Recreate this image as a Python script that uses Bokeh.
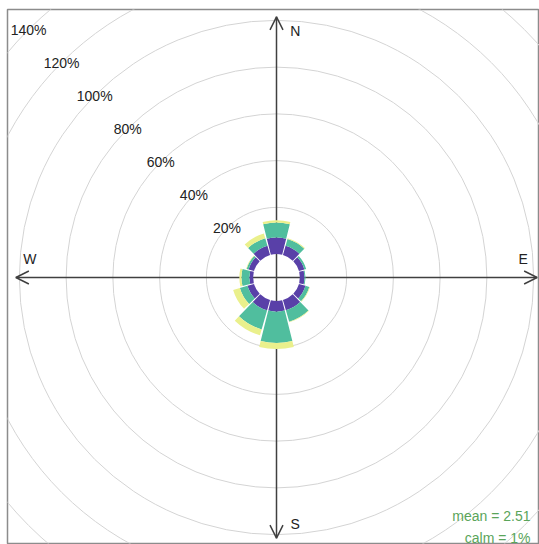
import numpy as np
from bokeh.plotting import figure
from bokeh.models import Range1d, Arrow, OpenHead, Label, ColumnDataSource
from bokeh.embed import file_html
from bokeh.resources import INLINE
from bokeh.core.properties import value

# ---------------- data ----------------
directions = [0, 30, 60, 90, 120, 150, 180, 210, 240, 270, 300, 330]
bin_names = ["bin 1", "bin 2", "bin 3"]
freq_bin1 = [7.1, 4.1, 2.4, 2.0, 2.9, 4.6, 4.6, 4.6, 2.9, 1.6, 2.4, 4.1]
freq_bin2 = [6.4, 3.0, 0.8, 0.4, 1.7, 5.1, 13.4, 8.5, 3.4, 3.4, 0.9, 3.4]
freq_bin3 = [1.0, 0.4, 0.0, 0.0, 0.3, 0.2, 2.6, 2.6, 3.0, 0.9, 0.2, 2.1]
ring_values = [20, 40, 60, 80, 100, 120, 140]
ring_labels = ["20%", "40%", "60%", "80%", "100%", "120%", "140%"]
compass_labels = ["N", "E", "S", "W"]
mean_text = "mean = 2.51"
calm_text = "calm = 1%"

# ---------------- style / layout ----------------
bin_colors = ["#5940A8", "#50BE9E", "#EAF08C"]
OFFSET = 10.0          # calm hole (in % units)
PX = 2.3375            # px per unit
W, H = 539, 544
BL, BT, BR, BB = 7, 9, 0, 1          # borders around the frame
FW, FH = W - BL - BR, H - BT - BB    # frame size
CX, CY = 269, 268                    # centre inside frame (px from left / top)
HALF = 14              # half angular width of a wedge (deg)
FONT = value("Liberation Sans")
AXIS_COL = "#404040"

x0, x1 = -CX / PX, (FW - CX) / PX
y0, y1 = -(FH - CY) / PX, CY / PX

p = figure(width=W, height=H, output_backend="svg", toolbar_location=None,
           x_range=Range1d(x0, x1), y_range=Range1d(y0, y1),
           x_axis_location=None, y_axis_location=None,
           min_border_left=BL, min_border_top=BT, min_border_right=BR,
           min_border_bottom=BB)
p.grid.visible = False
p.outline_line_color = "#8c8c8c"
p.outline_line_width = 1.5
p.background_fill_color = "white"
p.border_fill_color = "white"

# grid rings
rings = ColumnDataSource(dict(x=[0] * len(ring_values), y=[0] * len(ring_values),
                              r=[OFFSET + v for v in ring_values]))
p.circle(x="x", y="y", radius="r", source=rings, fill_color=None,
         line_color="#d4d4d4", line_width=1)

# axis lines with arrow heads
mx = 111.5
p.segment(x0=[-mx, 0], y0=[0, -mx], x1=[mx, 0], y1=[0, mx],
          line_color=AXIS_COL, line_width=1.5)
for xs, ys, xe, ye in [(-mx, 0, mx, 0), (0, -mx, 0, mx)]:
    p.add_layout(Arrow(start=OpenHead(size=13, line_color=AXIS_COL, line_width=1.5),
                       end=OpenHead(size=13, line_color=AXIS_COL, line_width=1.5),
                       x_start=xs, y_start=ys, x_end=xe, y_end=ye, line_alpha=0))

# stacked wedges
freqs = [freq_bin1, freq_bin2, freq_bin3]
cum = np.zeros(len(directions))
for name, f, col in zip(bin_names, freqs, bin_colors):
    f = np.array(f)
    inner = OFFSET + cum
    outer = inner + f
    keep = f > 0
    d = np.array(directions)[keep]
    src = ColumnDataSource(dict(inner=inner[keep], outer=outer[keep],
                                start=np.radians(90 - d - HALF),
                                end=np.radians(90 - d + HALF)))
    p.annular_wedge(x=0, y=0, inner_radius="inner", outer_radius="outer",
                    start_angle="start", end_angle="end",
                    direction="anticlock", source=src, fill_color=col,
                    line_color=None)
    cum = cum + f

# ring labels (north-west)
rr = np.array([OFFSET + v for v in ring_values])
p.text(x=-rr * np.sin(np.pi / 4), y=rr * np.cos(np.pi / 4), text=ring_labels,
       text_font=FONT, text_font_size="14px", text_align="center",
       text_baseline="middle", text_color="#222222")

# compass labels
LP, LO = 105.5, 8.0
p.text(x=[LO, LP, LO, -LP], y=[LP, LO, -LP, LO], text=compass_labels,
       text_font=FONT, text_font_size="14px", text_align="center",
       text_baseline="middle", text_color="#222222")

# mean / calm (bottom right)
tx = (530 - 276) / PX
p.add_layout(Label(x=tx, y=-(515 - 277) / PX, text=mean_text, text_align="right",
                   text_baseline="alphabetic", text_font="Liberation Sans",
                   text_font_size="14px", text_color="#5aa55a"))
p.add_layout(Label(x=tx, y=-(537 - 277) / PX, text=calm_text, text_align="right",
                   text_baseline="alphabetic", text_font="Liberation Sans",
                   text_font_size="14px", text_color="#5aa55a"))

open("out.html", "w").write(file_html(p, INLINE))
